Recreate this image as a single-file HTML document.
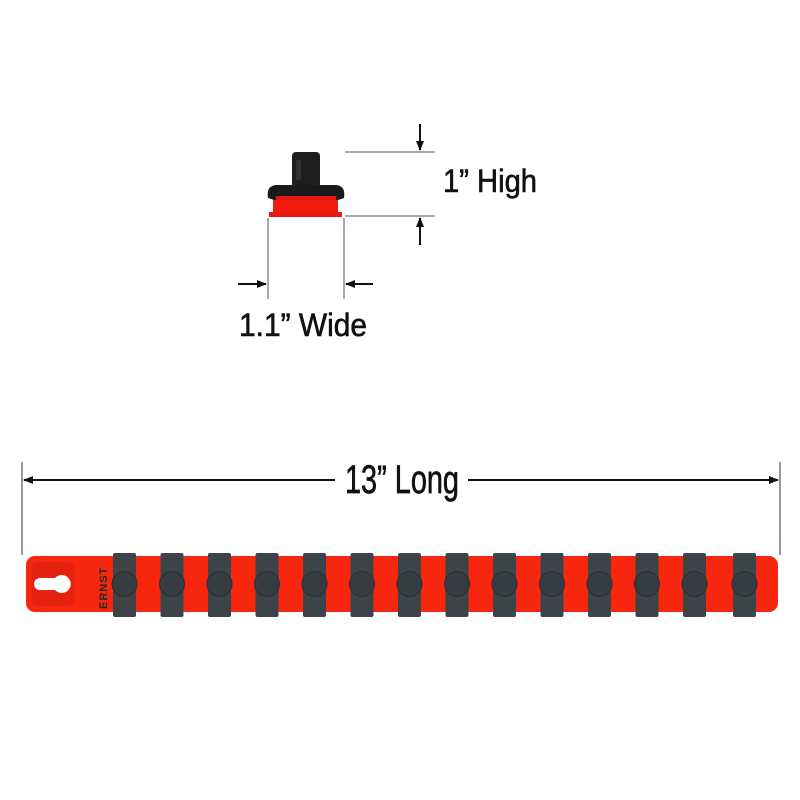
<!DOCTYPE html>
<html><head><style>
html,body{margin:0;padding:0;background:#fff;}
svg{display:block;}
text{font-family:"Liberation Sans Narrow","Liberation Sans",sans-serif;fill:#111;}
</style></head><body>
<svg width="800" height="800" viewBox="0 0 800 800" xmlns="http://www.w3.org/2000/svg">
<defs>
<marker id="ah" markerWidth="10" markerHeight="10" refX="9" refY="5" orient="auto" markerUnits="userSpaceOnUse">
<path d="M0,1 L10,5 L0,9 Z" fill="#111"/></marker>
</defs>
<!-- small piece -->
<rect x="292" y="152" width="28" height="36" rx="4" fill="#1e1e1e"/>
<rect x="296" y="160" width="5" height="20" fill="#333"/>
<rect x="273" y="194" width="65" height="22" fill="#f21b10"/>
<rect x="269" y="212" width="73" height="5" fill="#e81a10"/>
<path d="M268,198 Q266,186 276,185 L336,185 Q346,186 344,198 L338,200 L274,200 Z" fill="#1a1a1a"/>
<rect x="276" y="196" width="60" height="4" fill="#e01810"/>
<!-- high dims -->
<line x1="345" y1="152" x2="435" y2="152" stroke="#555" stroke-width="1"/>
<line x1="345" y1="216" x2="435" y2="216" stroke="#555" stroke-width="1"/>
<line x1="420" y1="124" x2="420" y2="150" stroke="#111" stroke-width="2" marker-end="url(#ah)"/>
<line x1="420" y1="245" x2="420" y2="218" stroke="#111" stroke-width="2" marker-end="url(#ah)"/>
<text x="443" y="192" font-size="32" stroke="#111" stroke-width="0.6" textLength="94" lengthAdjust="spacingAndGlyphs">1” High</text>
<!-- wide dims -->
<line x1="268" y1="218" x2="268" y2="299" stroke="#555" stroke-width="1"/>
<line x1="344" y1="218" x2="344" y2="299" stroke="#555" stroke-width="1"/>
<line x1="238" y1="284" x2="266" y2="284" stroke="#111" stroke-width="2" marker-end="url(#ah)"/>
<line x1="373" y1="284" x2="346" y2="284" stroke="#111" stroke-width="2" marker-end="url(#ah)"/>
<text x="239" y="336" font-size="32" stroke="#111" stroke-width="0.6" textLength="128" lengthAdjust="spacingAndGlyphs">1.1” Wide</text>
<!-- long dims -->
<line x1="22" y1="462" x2="22" y2="555" stroke="#555" stroke-width="1.2"/>
<line x1="780" y1="462" x2="780" y2="555" stroke="#555" stroke-width="1.2"/>
<line x1="335" y1="480" x2="24" y2="480" stroke="#111" stroke-width="2" marker-end="url(#ah)"/>
<line x1="468" y1="480" x2="778" y2="480" stroke="#111" stroke-width="2" marker-end="url(#ah)"/>
<text x="345" y="493" font-size="40" stroke="#111" stroke-width="0.7" textLength="114" lengthAdjust="spacingAndGlyphs">13” Long</text>
<!-- bar -->
<rect x="26" y="556" width="752" height="56" rx="9" fill="#f7270f"/>
<rect x="32" y="562" width="42" height="44" rx="5" fill="#e52210"/>
<path d="M40,578 L55,578 A9,9 0 1 1 55,590 L40,590 A6,6 0 0 1 40,578 Z" fill="#fff"/>
<text x="0" y="0" font-size="11" font-weight="bold" transform="translate(107,609) rotate(-90)" style="font-family:'Liberation Sans',sans-serif;fill:#2a2a2a;letter-spacing:1px">ERNST</text>
<g>
<g id="c"><rect x="113" y="553" width="23" height="64" rx="2" fill="#3d4449"/><circle cx="124.5" cy="584" r="12.5" fill="#363c41" stroke="#2a2f33" stroke-width="1"/></g>
<use href="#c" x="47.5"/><use href="#c" x="95"/><use href="#c" x="142.5"/><use href="#c" x="190"/>
<use href="#c" x="237.5"/><use href="#c" x="285"/><use href="#c" x="332.5"/><use href="#c" x="380"/>
<use href="#c" x="427.5"/><use href="#c" x="475"/><use href="#c" x="522.5"/><use href="#c" x="570"/>
<use href="#c" x="620"/>
</g>
</svg>
</body></html>
